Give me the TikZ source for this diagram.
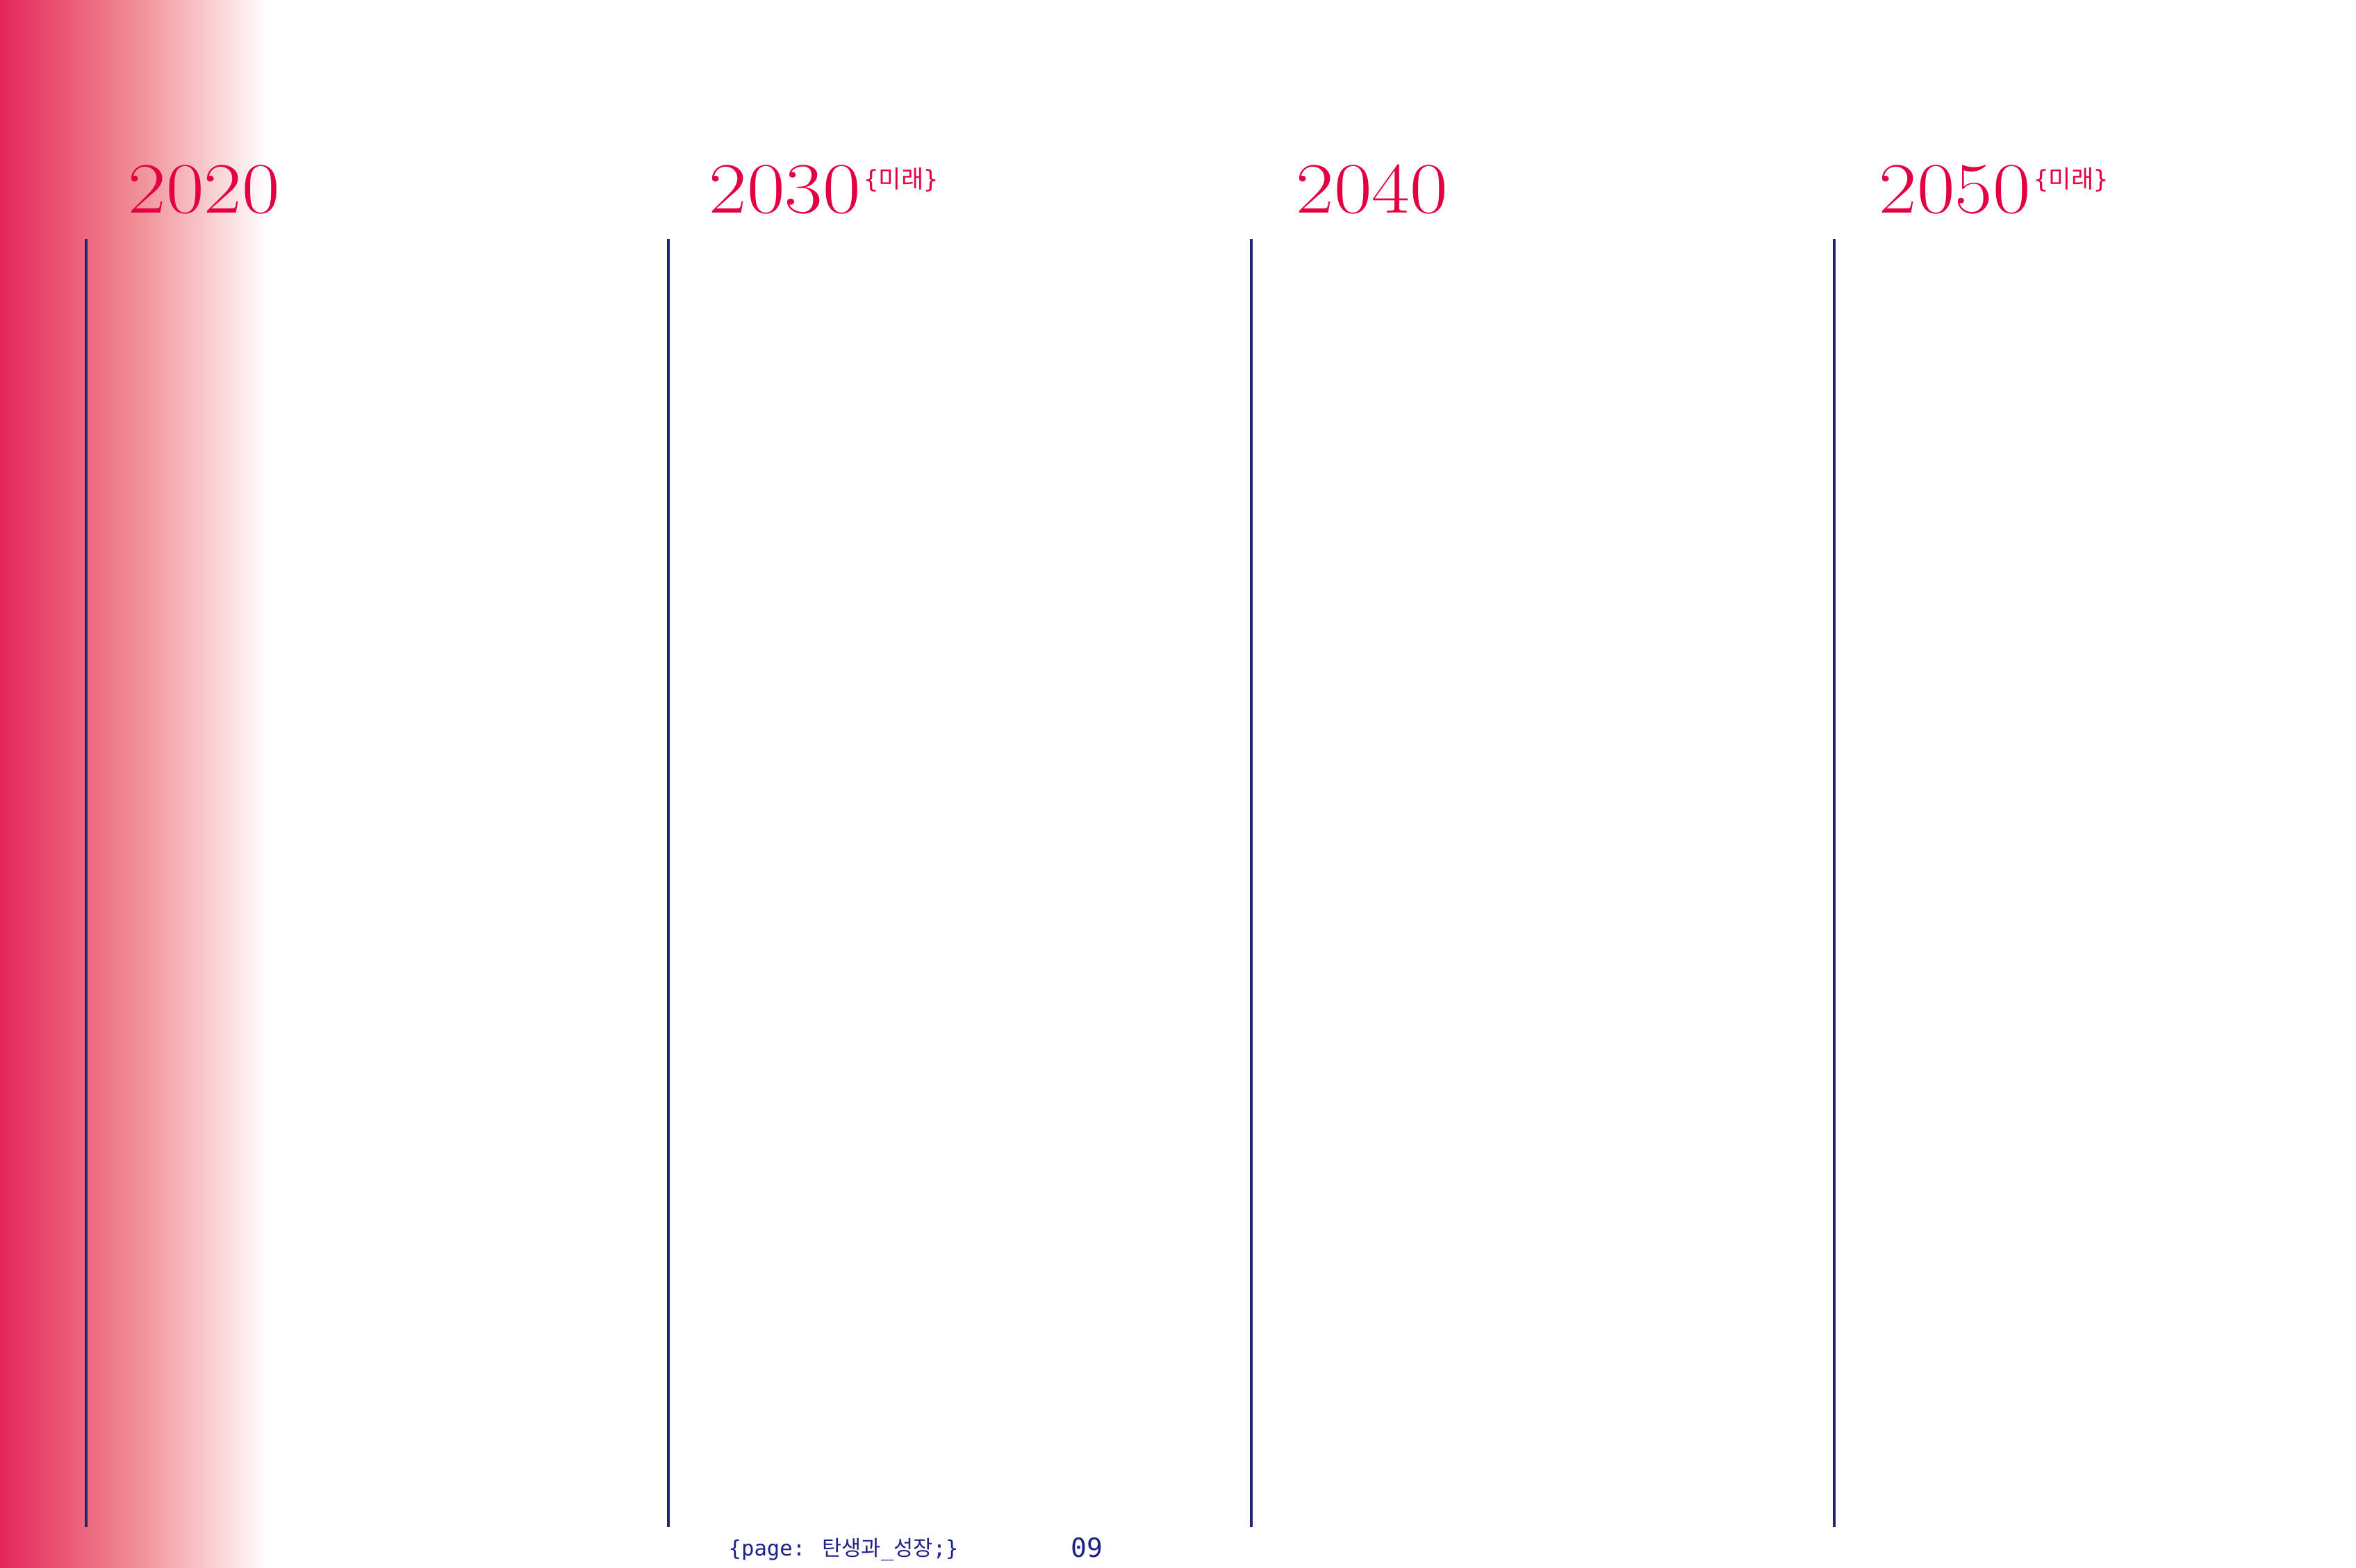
\documentclass[tikz,border=0pt]{standalone}
\usepackage{fontspec}
\newfontfamily\cjk{Noto Sans CJK KR}
\newfontfamily\mono{DejaVu Sans Mono}
\definecolor{yearred}{RGB}{226,0,66}
\definecolor{navyline}{RGB}{32,38,112}
\definecolor{navytext}{RGB}{30,32,140}
\definecolor{gradred}{RGB}{228,38,90}
\definecolor{gradmid}{RGB}{240,140,148}
\begin{document}
\begin{tikzpicture}[x=1cm,y=1cm,
  year/.style={anchor=base west, inner sep=0pt, text=yearred, font=\fontsize{29.6}{30}\selectfont},
  tag/.style={anchor=base west, inner sep=0pt, text=yearred, font=\fontsize{10}{11}\selectfont},
  rule/.style={draw=navyline, line width=1.15pt},
  foot/.style={anchor=base west, inner sep=0pt, text=navytext}]
\useasboundingbox (0,0) rectangle (33.91,22.57);
\shade[left color=gradred, right color=white, middle color=gradmid] (0,0) rectangle (3.85,22.57);
% vertical rules
\foreach \x/\n in {1.24/a,9.62/b,18.01/c,26.40/d}{
  \coordinate (top\n) at (\x,19.13);
  \coordinate (bot\n) at (\x,0.59);
  \draw[rule] (top\n) -- (bot\n);
}
% year labels
\node[year] (y2020) at (1.84,19.50) {\scalebox{1.14}[1]{2020}};
\node[year] (y2030) at (10.20,19.50) {\scalebox{1.14}[1]{2030}};
\node[tag] (t2030) at (12.43,19.86) {{\mono\{}{\cjk 미래}{\mono\}}};
\node[year] (y2040) at (18.65,19.50) {\scalebox{1.14}[1]{2040}};
\node[year] (y2050) at (27.04,19.50) {\scalebox{1.14}[1]{2050}};
\node[tag] (t2050) at (29.27,19.86) {{\mono\{}{\cjk 미래}{\mono\}}};
% footer
\node[foot] (page) at (10.48,0.17) {\mono\fontsize{8.7}{10}\selectfont\{page: {\cjk 탄생과}\_{\cjk 성장};\}};
\node[foot] (num) at (15.41,0.15) {\mono\fontsize{10.8}{12}\selectfont 09};
\end{tikzpicture}
\end{document}
